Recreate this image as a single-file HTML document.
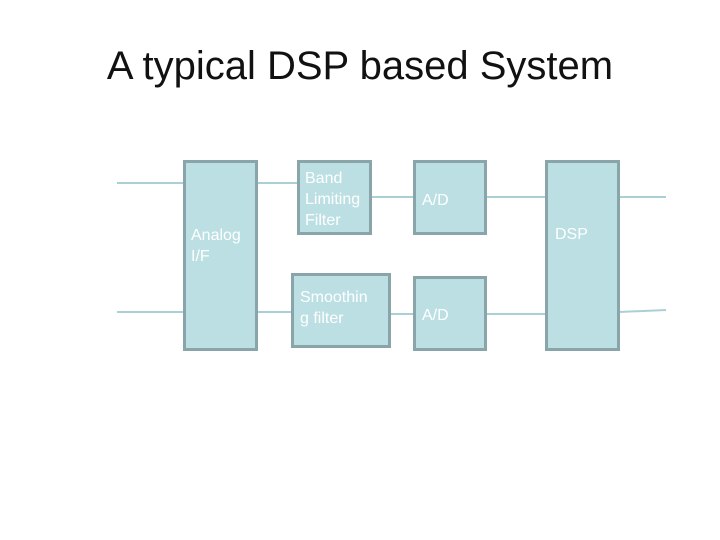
<!DOCTYPE html>
<html><head><style>
body{margin:0;width:720px;height:540px;background:#fff;font-family:"Liberation Sans",sans-serif;position:relative;overflow:hidden}
.t{position:absolute;top:44px;left:0;width:720px;text-align:center;font-size:40px;color:#111}
.b{position:absolute;box-sizing:border-box;background:#bbdfe3;border:3px solid #89a5a9;color:#fff;font-size:16px;line-height:21px}
.b span{position:absolute}
svg{position:absolute;left:0;top:0}
</style></head><body>
<div class="t">A typical DSP based System</div>
<svg width="720" height="540"><g stroke="#a9d0d5" stroke-width="2" fill="#a9d0d5">
<line x1="117" y1="183" x2="183" y2="183"/><line x1="257" y1="183" x2="297" y2="183"/>
<line x1="371" y1="197" x2="413" y2="197"/><line x1="486" y1="197" x2="545" y2="197"/>
<line x1="619" y1="197" x2="666" y2="197"/>
<line x1="117" y1="312" x2="183" y2="312"/><line x1="257" y1="312" x2="291" y2="312"/>
<line x1="390" y1="314" x2="413" y2="314"/><line x1="486" y1="314" x2="545" y2="314"/>
<line x1="619" y1="312" x2="666" y2="310"/>
</g></svg>
<div class="b" style="left:183px;top:160px;width:75px;height:191px"><span style="left:5px;top:62px">Analog<br>I/F</span></div>
<div class="b" style="left:297px;top:160px;width:75px;height:75px"><span style="left:5px;top:5px">Band<br>Limiting<br>Filter</span></div>
<div class="b" style="left:291px;top:273px;width:100px;height:75px"><span style="left:6px;top:11px">Smoothin<br>g filter</span></div>
<div class="b" style="left:413px;top:160px;width:74px;height:75px"><span style="left:6px;top:27px">A/D</span></div>
<div class="b" style="left:413px;top:276px;width:74px;height:75px"><span style="left:6px;top:26px">A/D</span></div>
<div class="b" style="left:545px;top:160px;width:75px;height:191px"><span style="left:7px;top:61px">DSP</span></div>
</body></html>
